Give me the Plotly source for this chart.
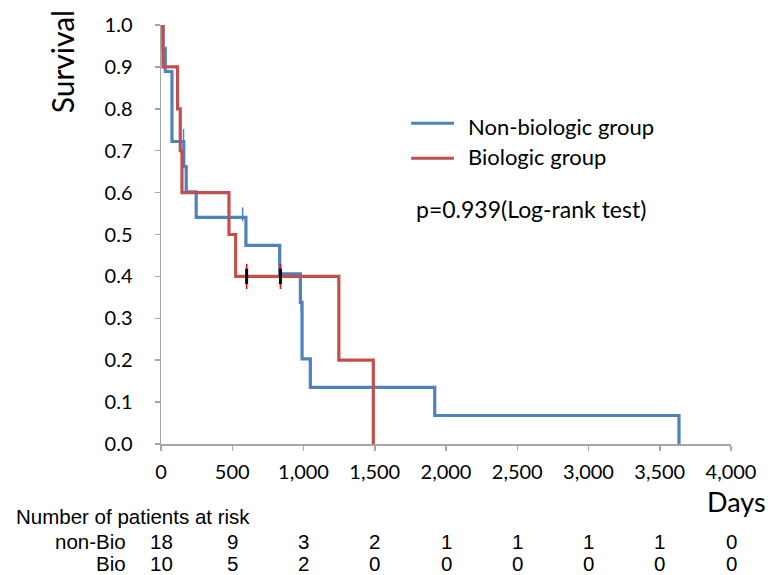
import plotly.graph_objects as go

# ---------------- data ----------------
nonbio_days = [0, 14, 30, 77, 160, 177, 247, 596, 833, 978, 990, 1048, 1921, 3635]
nonbio_surv = [1.0, 0.944, 0.889, 0.722, 0.662, 0.602, 0.541, 0.474, 0.406, 0.338, 0.203, 0.135, 0.068, 0.0]
nonbio_cens_days = [158, 573, 985]
nonbio_cens_surv = [0.735, 0.548, 0.33]

bio_days = [0, 14, 116, 135, 147, 477, 524, 1248, 1490]
bio_surv = [1.0, 0.9, 0.8, 0.7, 0.6, 0.5, 0.4, 0.2, 0.0]
bio_cens_days = [601, 838]
bio_cens_surv = [0.4, 0.4]

risk_days = [0, 500, 1000, 1500, 2000, 2500, 3000, 3500, 4000]
risk_nonbio = [18, 9, 3, 2, 1, 1, 1, 1, 0]
risk_bio = [10, 5, 2, 0, 0, 0, 0, 0, 0]

x_ticks = [0, 500, 1000, 1500, 2000, 2500, 3000, 3500, 4000]
x_ticklabels = ["0", "500", "1,000", "1,500", "2,000", "2,500", "3,000", "3,500", "4,000"]
y_ticks = [0.0, 0.1, 0.2, 0.3, 0.4, 0.5, 0.6, 0.7, 0.8, 0.9, 1.0]
y_ticklabels = ["0.0", "0.1", "0.2", "0.3", "0.4", "0.5", "0.6", "0.7", "0.8", "0.9", "1.0"]

BLUE = "#4F81BD"
RED = "#C0504D"
AXIS = "#A6A6A6"

# ---------------- layout geometry ----------------
WIDTH, HEIGHT = 768, 575
L, R, T, B = 160.7, 34.7, 23.3, 131
PW = WIDTH - L - R
PH = HEIGHT - T - B


def xp(px):
    return (px - L) / PW


def yp(py):
    return (HEIGHT - B - py) / PH


fig = go.Figure()

fig.add_trace(go.Scatter(x=nonbio_days, y=nonbio_surv, mode="lines",
                         line=dict(color=BLUE, width=3.2, shape="hv"),
                         showlegend=False, hoverinfo="skip"))
fig.add_trace(go.Scatter(x=bio_days, y=bio_surv, mode="lines",
                         line=dict(color=RED, width=3.2, shape="hv"),
                         showlegend=False, hoverinfo="skip"))
# censor marks
fig.add_trace(go.Scatter(x=nonbio_cens_days, y=nonbio_cens_surv, mode="markers",
                         marker=dict(symbol="line-ns", size=10,
                                     line=dict(color=BLUE, width=1.5)),
                         showlegend=False, hoverinfo="skip"))
fig.add_trace(go.Scatter(x=bio_cens_days, y=bio_cens_surv, mode="markers",
                         marker=dict(symbol="line-ns", size=18,
                                     line=dict(color="#FF0000", width=1.5)),
                         showlegend=False, hoverinfo="skip", cliponaxis=False))
fig.add_trace(go.Scatter(x=bio_cens_days, y=bio_cens_surv, mode="markers",
                         marker=dict(symbol="line-ns", size=11,
                                     line=dict(color="black", width=3)),
                         showlegend=False, hoverinfo="skip", cliponaxis=False))

FONT = "Lato, Open Sans, sans-serif"
TFONT = "Liberation Sans, Arial, sans-serif"

annotations = []
shapes = []

# legend
shapes.append(dict(type="line", xref="paper", yref="paper",
                   x0=xp(412), x1=xp(455), y0=yp(122), y1=yp(122),
                   line=dict(color=BLUE, width=3)))
shapes.append(dict(type="line", xref="paper", yref="paper",
                   x0=xp(412), x1=xp(455), y0=yp(157), y1=yp(157),
                   line=dict(color=RED, width=3)))
annotations.append(dict(text="Non-biologic group", xref="paper", yref="paper",
                        x=xp(467), y=yp(125), xanchor="left", yanchor="middle",
                        showarrow=False, font=dict(family=FONT, size=22, color="black")))
annotations.append(dict(text="Biologic group", xref="paper", yref="paper",
                        x=xp(467), y=yp(155), xanchor="left", yanchor="middle",
                        showarrow=False, font=dict(family=FONT, size=22, color="black")))
annotations.append(dict(text="p=0.939(Log-rank test)", xref="paper", yref="paper",
                        x=xp(415), y=yp(208), xanchor="left", yanchor="middle",
                        showarrow=False, font=dict(family=FONT, size=23, color="black")))

# axis titles
annotations.append(dict(text="Survival", xref="paper", yref="paper",
                        x=xp(61), y=yp(60), xanchor="center", yanchor="middle",
                        textangle=-90, showarrow=False,
                        font=dict(family=FONT, size=30, color="black")))
annotations.append(dict(text="Days", xref="paper", yref="paper",
                        x=xp(739), y=yp(502), xanchor="center", yanchor="middle",
                        showarrow=False, font=dict(family=FONT, size=27, color="black")))

# risk table
annotations.append(dict(text="Number of patients at risk", xref="paper", yref="paper",
                        x=xp(13), y=yp(517), xanchor="left", yanchor="middle",
                        showarrow=False, font=dict(family=TFONT, size=20.5, color="black")))
annotations.append(dict(text="non-Bio", xref="paper", yref="paper",
                        x=xp(128), y=yp(542), xanchor="right", yanchor="middle",
                        showarrow=False, font=dict(family=TFONT, size=20.5, color="black")))
annotations.append(dict(text="Bio", xref="paper", yref="paper",
                        x=xp(128), y=yp(564), xanchor="right", yanchor="middle",
                        showarrow=False, font=dict(family=TFONT, size=20.5, color="black")))
for d, n in zip(risk_days, risk_nonbio):
    annotations.append(dict(text=str(n), xref="x", yref="paper", x=d, y=yp(542),
                            xanchor="center", yanchor="middle", showarrow=False,
                            font=dict(family=TFONT, size=20.5, color="black")))
for d, n in zip(risk_days, risk_bio):
    annotations.append(dict(text=str(n), xref="x", yref="paper", x=d, y=yp(564),
                            xanchor="center", yanchor="middle", showarrow=False,
                            font=dict(family=TFONT, size=20.5, color="black")))

fig.update_layout(
    width=WIDTH, height=HEIGHT,
    margin=dict(l=L, r=R, t=T, b=B, pad=0),
    paper_bgcolor="white", plot_bgcolor="white",
    xaxis=dict(range=[0, 4000], tickvals=x_ticks, ticktext=x_ticklabels,
               showgrid=False, zeroline=False, showline=True, linecolor=AXIS,
               linewidth=1.5, ticks="outside", ticklen=5, tickcolor=AXIS, tickwidth=1.5,
               tickfont=dict(family=FONT, size=20, color="black"),
               ticklabelstandoff=4),
    yaxis=dict(range=[0, 1], tickvals=y_ticks, ticktext=y_ticklabels,
               showgrid=False, zeroline=False, showline=True, linecolor=AXIS,
               linewidth=1.5, ticks="outside", ticklen=5, tickcolor=AXIS, tickwidth=1.5,
               tickfont=dict(family=FONT, size=20, color="black"),
               ticklabelstandoff=18),
    annotations=annotations,
    shapes=shapes,
    showlegend=False,
)

fig.write_html("out.html",
               config={"displayModeBar": False, "staticPlot": True},
               post_script="document.body.style.margin='0';document.body.style.overflow='hidden';")
